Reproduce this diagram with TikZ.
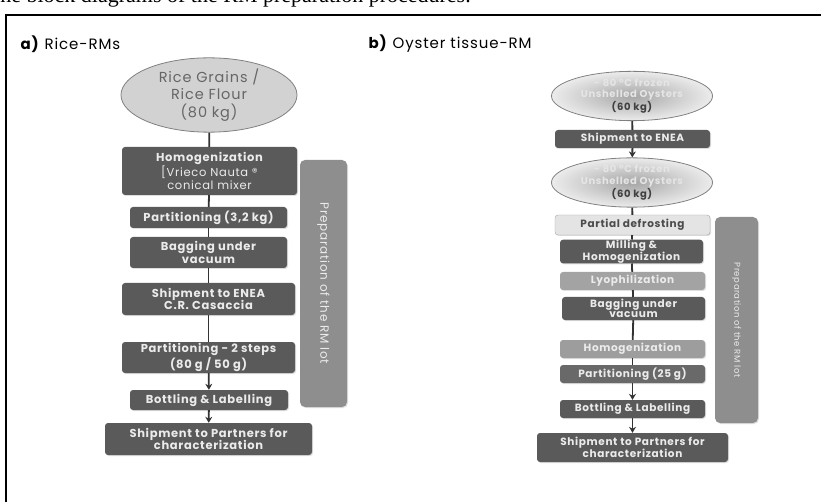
\documentclass[tikz,border=0pt]{standalone}
\usepackage{fontspec}
\setmainfont{Poppins}
\newfontfamily\gothic[LetterSpace=6]{Poppins}
\newfontfamily\capfont{Liberation Serif}
\usepackage{xcolor}
\definecolor{stepDark}{HTML}{5A5A5A}
\definecolor{stepMid}{HTML}{8C8C8C}
\definecolor{stepLight}{HTML}{E4E4E4}
\definecolor{sideBar}{HTML}{8E8E8E}
\definecolor{grainFill}{HTML}{D2D2D2}
\usetikzlibrary{shapes.geometric,arrows.meta,shadows}

\tikzset{
  stepbox/.style={rounded corners=3pt, fill=stepDark, draw=none, text=white!92!black,
    font=\gothic\bfseries\fontsize{11.5}{12.5}\selectfont, align=center, inner sep=0pt,
    drop shadow={opacity=0.25, shadow xshift=1pt, shadow yshift=-1pt}},
  smallstep/.style={stepbox, font=\gothic\bfseries\fontsize{10.5}{10.5}\selectfont},
  midstep/.style={smallstep, fill=stepMid},
  lightstep/.style={smallstep, fill=stepLight, draw=gray!70, text=black!70},
  sidebox/.style={rounded corners=5pt, fill=sideBar, draw=none, inner sep=0pt,
    drop shadow={opacity=0.25, shadow xshift=1pt, shadow yshift=-1pt}},
  sidetext/.style={rotate=-90, text=white!92!black},
  link/.style={draw=black!80, line width=1.8pt},
  arrowlink/.style={link, -{Stealth[length=6pt,width=7pt]}},
}

\begin{document}
\begin{tikzpicture}[x=1pt, y=-1pt]
  \useasboundingbox (0,0) rectangle (821,502);
  % caption line cut by the page edge
  \node[anchor=base west, inner sep=0pt, font=\capfont\fontsize{22}{24}\selectfont] (caption) at (-6,3) {the block diagrams of the RM preparation procedures.};
  \draw[line width=1.6pt] (6,520) -- (6,15) -- (830,15);

  % a) rice
  \node[anchor=west, font=\gothic\fontsize{15}{16}\selectfont] (titleA) at (17,44) {\textbf{a)} Rice-RMs};
  \node[ellipse, fill=grainFill, draw=gray, line width=0.8pt, minimum width=176pt, minimum height=60pt, inner sep=0pt, align=center, text=black!60, font=\gothic\fontsize{14.5}{17.5}\selectfont] (rice) at (209,95) {Rice Grains /\\Rice Flour\\(80 kg)};
  \node[stepbox, minimum width=175pt, minimum height=48pt] (homog) at (209.5,171) {Homogenization\\{\mdseries [Vrieco Nauta ®}\\{\mdseries conical mixer}};
  \node[stepbox, minimum width=157pt, minimum height=21pt] (part1) at (208.5,217.5) {Partitioning (3,2 kg)};
  \node[stepbox, minimum width=157pt, minimum height=31pt] (bag) at (208.5,252.5) {Bagging under\\vacuum};
  \node[stepbox, minimum width=173pt, minimum height=32pt] (shipenea) at (208.5,299) {Shipment to ENEA\\C.R. Casaccia};
  \node[stepbox, minimum width=173pt, minimum height=31pt] (part2) at (208.5,357.5) {Partitioning - 2 steps\\(80 g / 50 g)};
  \node[stepbox, minimum width=158pt, minimum height=20pt] (bottle) at (209,400) {Bottling \& Labelling};
  \node[stepbox, minimum width=207pt, minimum height=32pt] (shippart) at (208.5,439) {Shipment to Partners for\\characterization};
  \node[sidebox, minimum width=47pt, minimum height=247pt] (prepA) at (323.5,283.5) {};
  \node[sidetext, font=\gothic\fontsize{12}{13}\selectfont] (prepAtext) at (prepA.center) {Preparation of the RM lot};

  \draw[link] (rice) -- (homog);
  \draw[link] (homog) -- (part1);
  \draw[link] (part1) -- (bag);
  \draw[link] (bag) -- (shipenea);
  \draw[link] (shipenea) -- (part2);
  \draw[arrowlink] (part2) -- (bottle);
  \draw[arrowlink] (bottle) -- (shippart);

  % b) oysters
  \node[anchor=west, font=\gothic\fontsize{15}{16}\selectfont] (titleB) at (365,44) {\textbf{b)} Oyster tissue-RM};
  \node[ellipse, inner color=gray!70, outer color=gray!15, draw=gray, line width=0.8pt, minimum width=161pt, minimum height=48pt, inner sep=0pt, align=center, text=white!90!black, font=\gothic\bfseries\fontsize{10}{11.5}\selectfont] (oyster1) at (632,96) {- 80 °C frozen\\Unshelled Oysters\\{\color{black!75}(60 kg)}};
  \node[smallstep, minimum width=155pt, minimum height=18pt] (shipenea2) at (632.5,139) {Shipment to ENEA};
  \node[ellipse, inner color=gray!70, outer color=gray!15, draw=gray, line width=0.8pt, minimum width=161pt, minimum height=49pt, inner sep=0pt, align=center, text=white!90!black, font=\gothic\bfseries\fontsize{10}{11.5}\selectfont] (oyster2) at (632,182.5) {- 80 °C frozen\\Unshelled Oysters\\{\color{black!75}(60 kg)}};
  \node[lightstep, minimum width=155pt, minimum height=20pt] (defrost) at (632.5,225) {Partial defrosting};
  \node[smallstep, minimum width=143pt, minimum height=23pt] (milling) at (631.5,251.5) {Milling \&\\Homogenization};
  \node[midstep, fill=stepMid!80, minimum width=145pt, minimum height=18pt] (lyoph) at (632.5,281) {Lyophilization};
  \node[smallstep, minimum width=143pt, minimum height=23pt] (bag2) at (633.5,308.5) {Bagging under\\vacuum};
  \node[midstep, fill=stepMid!85, minimum width=145pt, minimum height=18pt] (homog2) at (632.5,349) {Homogenization};
  \node[midstep, fill=stepMid!75!black, minimum width=145pt, minimum height=18pt] (part3) at (632.5,374) {Partitioning (25 g)};
  \node[smallstep, minimum width=145pt, minimum height=18pt] (bottle2) at (632.5,409) {Bottling \& Labelling};
  \node[smallstep, minimum width=191pt, minimum height=29pt] (shippart2) at (632.5,447.5) {Shipment to Partners for\\characterization};
  \node[sidebox, minimum width=43pt, minimum height=206pt] (prepB) at (736.5,320) {};
  \node[sidetext, font=\gothic\fontsize{8.5}{9.5}\selectfont] (prepBtext) at (prepB.center) {Preparation of the RM lot};

  \draw[link] (oyster1) -- (shipenea2);
  \draw[arrowlink] (shipenea2) -- (oyster2);
  \draw[link] (oyster2) -- (defrost);
  \draw[link] (defrost) -- (milling);
  \draw[link] (milling) -- (lyoph);
  \draw[link] (lyoph) -- (bag2);
  \draw[link] (bag2) -- (homog2);
  \draw[link] (homog2) -- (part3);
  \draw[arrowlink] (part3) -- (bottle2);
  \draw[arrowlink] (bottle2) -- (shippart2);
\end{tikzpicture}
\end{document}
